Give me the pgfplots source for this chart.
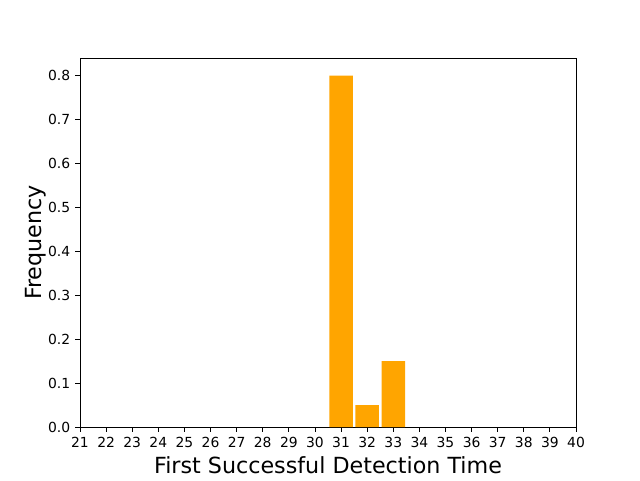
\documentclass[border=0pt]{standalone}
\usepackage{pgfplots}
\pgfplotsset{compat=1.18}
\usepackage{fontspec}
\setmainfont{DejaVu Sans}
\definecolor{barorange}{HTML}{FFA500}
\begin{document}
\begin{tikzpicture}
\begin{axis}[
    scale only axis,
    width=357.12pt, height=265.68pt,
    xmin=21, xmax=40, ymin=0, ymax=0.84,
    xtick={21,...,40},
    ytick={0,0.1,...,0.8},
    yticklabel style={/pgf/number format/.cd,fixed,fixed zerofill,precision=1},
    /pgf/number format/assume math mode=true,
    tick label style={font=\fontsize{10}{12}\selectfont},
    label style={font=\fontsize{16}{19}\selectfont},
    xlabel={First Successful Detection Time},
    ylabel={Frequency},
    tick align=outside,
    xtick pos=bottom, ytick pos=left,
    major tick length=3.5pt,
    axis line style={line width=0.6pt},
    every tick/.style={black, line width=0.6pt},
    xlabel style={yshift=0pt},
    ylabel style={yshift=-5.5pt},
    clip=false,
]
\addplot[ybar, bar width=0.9, fill=barorange, draw=none] coordinates {
(31,0.80) (32,0.05) (33,0.15)
};
\path (rel axis cs:-0.16129,-0.14363) rectangle (rel axis cs:1.12903,1.15718);
\end{axis}
\end{tikzpicture}
\end{document}
